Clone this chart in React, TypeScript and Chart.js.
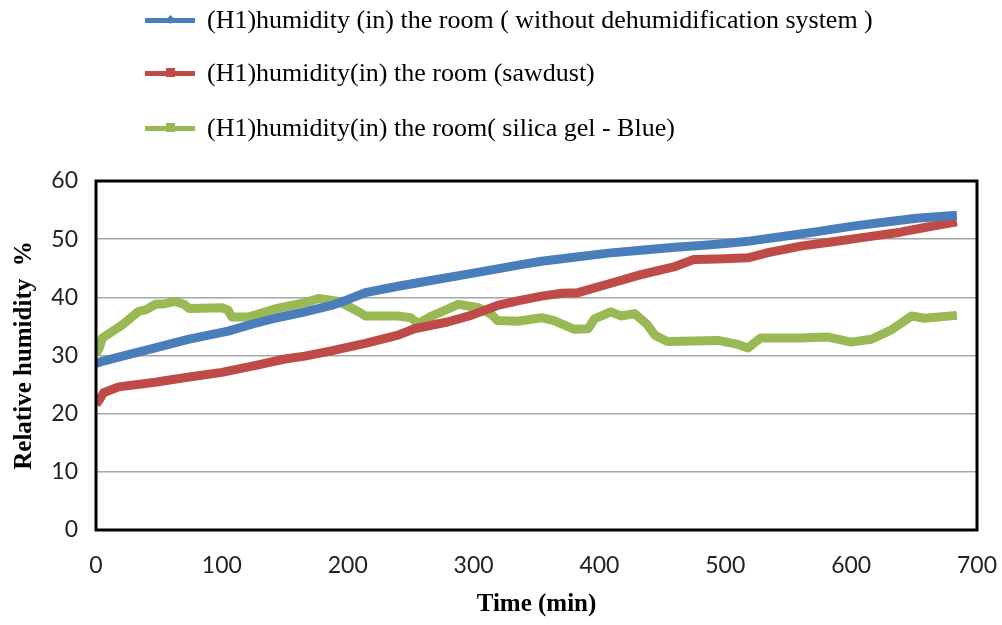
import React, { useEffect, useRef } from "react";
import { Chart, registerables } from "chart.js";

Chart.register(...registerables);

// ---- data ----
const blueTime = [0, 5, 21, 47, 74, 105, 121, 142, 166, 187, 200, 214, 240, 266, 293, 319, 340, 354, 380, 407, 433, 460, 486, 502, 520, 547, 573, 600, 626, 652, 684];
const blueHum = [28.6, 29.0, 29.9, 31.3, 32.8, 34.2, 35.2, 36.4, 37.5, 38.6, 39.6, 40.8, 41.9, 42.9, 43.9, 44.9, 45.7, 46.2, 46.9, 47.6, 48.1, 48.6, 49.0, 49.3, 49.7, 50.5, 51.3, 52.2, 52.9, 53.6, 54.1];

const redTime = [0, 3, 6, 18, 47, 74, 100, 127, 150, 166, 187, 214, 240, 253, 280, 298, 319, 335, 354, 370, 383, 407, 433, 460, 475, 494, 518, 534, 560, 587, 613, 639, 666, 684];
const redHum = [21.6, 22.5, 23.6, 24.6, 25.4, 26.3, 27.1, 28.3, 29.4, 29.9, 30.8, 32.1, 33.5, 34.6, 35.8, 36.9, 38.6, 39.4, 40.2, 40.7, 40.8, 42.3, 43.9, 45.3, 46.5, 46.6, 46.8, 47.7, 48.8, 49.6, 50.4, 51.2, 52.3, 53.0];

const greenTime = [0, 3, 5, 12, 21, 34, 40, 47, 55, 63, 70, 74, 100, 105, 108, 121, 142, 166, 177, 193, 208, 214, 240, 250, 256, 265, 272, 288, 304, 314, 319, 335, 354, 364, 380, 391, 396, 409, 417, 428, 438, 444, 454, 475, 494, 510, 518, 528, 560, 581, 600, 616, 632, 648, 658, 684];
const greenHum = [30.2, 31.5, 33.0, 34.0, 35.3, 37.6, 37.9, 38.8, 38.9, 39.3, 38.8, 38.1, 38.2, 37.8, 36.6, 36.6, 38.0, 39.1, 39.8, 39.3, 37.6, 36.8, 36.8, 36.5, 35.5, 36.6, 37.3, 38.8, 38.2, 37.1, 36.0, 35.9, 36.5, 36.0, 34.5, 34.6, 36.3, 37.5, 36.8, 37.2, 35.3, 33.5, 32.4, 32.5, 32.6, 31.9, 31.3, 33.0, 33.0, 33.2, 32.3, 32.8, 34.4, 36.8, 36.4, 36.9];

const seriesLabels = [
  "(H1)humidity (in) the room ( without dehumidification system )",
  "(H1)humidity(in) the room (sawdust)",
  "(H1)humidity(in) the room( silica gel - Blue)",
];
const seriesColors = ["#4A7EBB", "#BE4B48", "#98B954"];

const xTitle = "Time (min)";
const yTitle = "Relative humidity  %";

const serif = '"Liberation Serif", "Times New Roman", serif';
const sans = 'Lato, "Liberation Sans", sans-serif';

const toPoints = (t: number[], v: number[]) => t.map((x, i) => ({ x, y: v[i] }));

const frame = {
  id: "frame",
  afterDraw(chart: any) {
    const { ctx, chartArea: a } = chart;
    ctx.save();
    ctx.strokeStyle = "#000";
    ctx.lineWidth = 3;
    ctx.strokeRect(a.left, a.top, a.right - a.left, a.bottom - a.top);
    ctx.restore();
  },
};

export default function App() {
  const ref = useRef<HTMLCanvasElement>(null);

  useEffect(() => {
    document.body.style.margin = "0";
    const data = [toPoints(blueTime, blueHum), toPoints(redTime, redHum), toPoints(greenTime, greenHum)];
    const chart = new Chart(ref.current!, {
      type: "line",
      data: {
        datasets: data.map((d, i) => ({
          label: seriesLabels[i],
          data: d,
          borderColor: seriesColors[i],
          backgroundColor: seriesColors[i],
          borderWidth: 9,
          pointRadius: 0,
          borderJoinStyle: "round" as const,
          tension: 0,
        })),
      },
      options: {
        responsive: false,
        animation: false,
        layout: { padding: { left: 0, right: 25, top: 181, bottom: 0 } },
        plugins: { legend: { display: false }, tooltip: { enabled: false } },
        scales: {
          x: {
            type: "linear",
            min: 0,
            max: 700,
            ticks: { stepSize: 100, padding: 22, color: "#222", font: { family: sans, size: 23 } },
            grid: { display: false, drawTicks: false },
            border: { display: false },
            title: {
              display: true,
              text: xTitle,
              color: "#000",
              font: { family: serif, size: 25, weight: "bold" },
              padding: { top: 0, bottom: 5 },
            },
            afterFit: (s: any) => {
              s.height = 95;
              s.paddingLeft = 0;
              s.paddingRight = 0;
            },
          },
          y: {
            min: 0,
            max: 60,
            ticks: { stepSize: 10, padding: 18, color: "#222", font: { family: sans, size: 23 } },
            grid: { color: "#a6a6a6", lineWidth: 1.5, drawTicks: false },
            border: { display: false },
            title: {
              display: true,
              text: yTitle,
              color: "#000",
              font: { family: serif, size: 25, weight: "bold" },
              padding: { top: 10, bottom: 0 },
            },
            afterFit: (s: any) => {
              s.width = 96;
              s.paddingTop = 0;
              s.paddingBottom = 0;
            },
          },
        },
      },
      plugins: [frame],
    });
    return () => chart.destroy();
  }, []);

  const rowY = [20, 73, 128];

  return (
    <div style={{ position: "relative", width: 1002, height: 625, background: "#fff" }}>
      <canvas ref={ref} width={1002} height={625} style={{ position: "absolute", left: 0, top: 0 }} />
      {seriesLabels.map((lab, i) => (
        <div
          key={i}
          style={{
            position: "absolute",
            left: 145,
            top: rowY[i] - 15,
            height: 30,
            display: "flex",
            alignItems: "center",
            whiteSpace: "nowrap",
          }}
        >
          <div style={{ position: "relative", width: 50, height: 5, background: seriesColors[i] }}>
            <div
              style={{
                position: "absolute",
                left: 21,
                top: -2.5,
                width: 9,
                height: 9,
                background: seriesColors[i],
                transform: i === 0 ? "rotate(45deg) scale(0.7)" : "none",
              }}
            />
          </div>
          <span style={{ marginLeft: 12, fontFamily: serif, fontSize: 26, color: "#000", lineHeight: "30px" }}>{lab}</span>
        </div>
      ))}
    </div>
  );
}
